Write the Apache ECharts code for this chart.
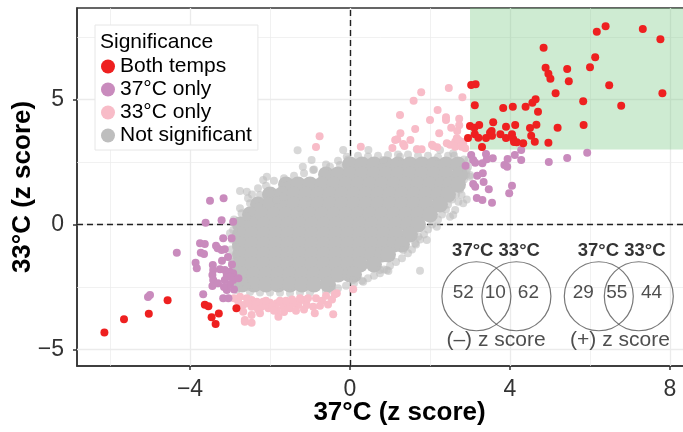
<!DOCTYPE html>
<html>
<head>
<meta charset="utf-8">
<script src="https://cdn.jsdelivr.net/npm/echarts@6/dist/echarts.min.js"></script>
<style>
  html, body { margin: 0; padding: 0; background: #fff; }
  #chart { width: 683px; height: 432px; }
</style>
</head>
<body>
<div id="chart"></div>
<script>
// points are [37°C z score, 33°C z score]
const bothTemps = [
  [3.03,5.58],[3.14,5.61],[3.12,4.77],[3.0,3.94],[3.11,3.87],[3.23,3.98],[3.58,4.09],[2.95,3.46],
  [3.12,3.61],[3.21,3.47],[3.4,3.46],[3.5,3.67],[3.54,3.74],[3.55,3.55],[3.76,3.61],[3.9,3.46],
  [3.9,3.91],[4.05,3.61],[4.08,3.42],[4.1,3.3],[4.17,3.29],[4.33,3.25],[4.13,3.98],[4.5,3.86],
  [4.53,3.55],[4.62,3.31],[4.66,3.99],[4.96,3.27],[5.19,3.87],[5.84,3.98],[3.3,3.1],[3.83,4.66],
  [4.07,4.71],[4.39,4.71],[4.7,4.51],[4.56,4.87],[4.64,5.01],[5.14,5.25],[5.83,4.93],[6.78,4.75],
  [7.81,5.25],[6.48,5.57],[5.47,5.73],[5.01,5.83],[4.96,6.03],[4.89,6.27],[5.43,6.22],[6.0,6.29],
  [6.13,6.69],[4.84,7.07],[6.17,7.71],[6.39,7.93],[7.32,7.82],[7.76,7.41],
  [-6.14,-4.32],[-5.65,-3.79],[-5.03,-3.57],[-4.56,-3.03],[-3.63,-3.21],[-3.54,-3.27],
  [-3.28,-3.56],[-3.46,-3.71],[-3.36,-3.98],[-2.84,-3.35]
];

const only37 = [
  [3.03,2.78],[3.08,2.58],[3.13,2.47],[2.89,2.35],[3.4,2.82],[3.42,2.61],[3.31,2.45],[3.57,2.65],
  [4.12,2.78],[4.28,2.58],[3.86,2.38],[3.93,2.31],[3.94,2.62],[4.97,2.5],[5.43,2.66],[5.93,2.87],
  [3.18,1.95],[3.32,2.05],[3.08,1.62],[3.13,1.51],[3.34,1.7],[3.47,1.41],[4.05,1.55],[3.98,1.25],
  [3.17,1.06],[3.31,0.98],[3.55,0.87],[4.28,2.98],
  [-3.5,0.95],[-3.16,1.05],[-3.61,0.07],[-3.21,0.17],[-2.92,0.11],[-4.33,-1.13],[-5.05,-2.9],
  [-5.0,-2.82],[-3.75,-0.75],[-3.63,-0.78],[-3.73,-1.13],[-3.65,-1.18],[-3.31,-0.95],[-3.21,-1.02],
  [-3.13,-0.99],[-3.17,-0.55],[-2.96,-0.55],[-3.86,-1.53],[-3.83,-1.75],[-3.43,-1.62],[-3.42,-1.82],
  [-3.44,-2.02],[-3.42,-2.22],[-3.44,-2.46],[-3.25,-1.79],[-3.13,-1.82],[-3.0,-1.89],[-3.08,-2.02],
  [-2.92,-1.95],[-3.0,-2.09],[-2.92,-2.22],[-3.13,-2.22],[-3.08,-2.62],[-3.17,-2.95],[-3.04,-2.95],
  [-3.67,-2.79],[-2.79,-2.15],[-3.35,-0.85],[-3.05,-1.3],[-3.2,-1.45],[-2.95,-1.6],[-3.3,-2.35],
  [-3.0,-2.4],[-3.15,-2.5],[-2.9,-2.6]
];

const only33 = [
  [2.47,5.46],[1.78,5.29],[2.81,5.09],[1.59,4.95],[2.19,4.58],[1.25,4.38],[2.0,4.18],[2.4,4.29],
  [2.4,4.18],[2.73,4.23],[2.53,3.87],[2.73,3.97],[1.63,3.82],[1.26,3.65],[1.18,3.41],[1.13,3.38],
  [2.23,3.65],[2.68,3.74],[1.51,3.38],[1.33,3.22],[1.36,3.14],[1.06,3.06],[0.27,3.11],[2.05,3.19],
  [2.18,3.09],[2.5,3.19],[2.63,3.31],[2.71,3.38],[2.79,3.31],[1.68,3.01],[1.79,3.01],[-0.76,3.53],
  [-0.85,3.1],[2.67,3.45],[2.83,3.25],[2.63,3.11],[2.42,3.25],[2.08,3.14],[2.79,3.11],[2.88,3.05],
  [-2.75,-2.89],[-2.58,-2.95],[-2.46,-3.02],[-2.33,-3.09],[-2.17,-3.09],[-2.0,-3.13],[-1.83,-3.15],
  [-1.67,-3.29],[-2.67,-3.22],[-2.46,-3.29],[-2.21,-3.29],[-2.04,-3.35],[-1.83,-3.42],[-2.67,-3.49],
  [-2.46,-3.62],[-2.63,-3.89],[-2.46,-3.93],[-2.25,-3.55],[-1.79,-3.69],[-1.38,-3.09],[-1.17,-3.02],
  [-1.08,-3.22],[-0.88,-3.55],[-0.42,-3.59],[-0.33,-2.75],[-1.58,-3.15],[-1.29,-3.22],[-0.92,-3.29],
  [-1.5,-3.35],[-1.42,-3.15],[-2.63,-3.82],[-0.38,-2.79],[0.08,-2.59],[-2.8,-3.05],[-2.55,-3.15],
  [-2.35,-3.2],[-2.1,-3.2],[-1.95,-3.25],[-1.75,-3.05],[-1.6,-3.05],[-1.45,-3.0],[-1.25,-2.95],
  [-1.05,-2.95],[-0.85,-2.95],[-0.7,-3.05],[-0.55,-3.2],[-0.75,-3.25],[-1.15,-3.4],[-1.35,-3.45],
  [-0.6,-2.85],[-2.3,-3.4],[-1.9,-3.45],[-2.75,-3.3],[-0.45,-3.0],[-1.65,-3.5],[-2.1,-3.05],[-2.9,-2.95]
];

// scattered grey points round the edge of the cloud
const notSigSparse = [
  [-1.31,2.97],[-0.96,2.58],[-1.18,2.31],[-0.92,2.18],[-0.5,2.31],[-0.25,2.38],[-2.17,1.78],[-2.08,1.91],
  [-1.67,1.67],[-2.75,1.34],[-2.58,1.31],[-2.25,1.18],[-2.0,1.25],[-1.83,0.98],[-1.67,1.11],[-2.5,0.85],
  [-2.29,0.71],[-2.71,0.45],[-2.58,0.31],[-2.92,-0.22],[-3.0,-0.35],[-2.96,-1.29],[-2.83,-2.62],[-2.58,-2.49],
  [-0.17,2.98],[-0.08,2.71],[0.46,2.98],[0.83,2.58],[1.25,2.71],[1.67,3.01],[2.25,2.98],[2.58,2.85],
  [2.96,2.58],[2.92,2.18],[3.0,1.98],[3.0,1.91],[2.92,1.0],[2.58,0.38],[2.79,1.18],[2.63,0.58],
  [2.71,0.91],[2.83,0.85],[2.5,0.31],[2.17,-0.09],[1.71,-0.49],[1.92,-0.62],[1.63,-0.75],[1.33,-1.02],
  [0.92,-1.82],[0.75,-1.82],[1.75,-1.85],[0.96,-1.86],[0.33,-2.29],[0.08,-2.22],
  [-0.3,2.55],[0.2,2.75],[0.7,2.75],[1.2,2.8],[1.7,2.75],[2.2,2.7],[2.6,2.75],[-0.9,2.2],[-1.4,1.95],
  [-1.9,1.75],[-2.3,1.45],[-2.55,1.05],[-2.75,0.65],[-2.9,0.2],[2.95,2.3],[2.85,1.8],[2.75,1.4],
  [2.55,1.0],[2.4,0.6],[2.2,0.2],[1.95,-0.2],[1.75,-0.6],[1.55,-1.0],[1.3,-1.35],[1.0,-1.65],
  [0.75,-1.95],[0.45,-2.15],[0.1,-2.35],[-0.3,-2.55],[-2.95,-0.6],[-2.97,-1.0],[-2.95,-1.5],
  [-2.95,-2.0],[-2.9,-2.4],[-2.5,-2.7],[-2.0,-2.72],[-1.5,-2.75],[-1.0,-2.72],[-0.6,-2.68],
  [-1.15,2.05],[-1.65,1.85],[-2.1,1.55],[-2.45,1.2],[-0.6,2.4],[-0.05,2.6],[0.45,2.72],[0.95,2.78],
  [1.45,2.8],[1.95,2.75],[2.45,2.75],[2.85,2.6],[2.9,2.0],[2.65,1.2],[2.45,0.8],[2.3,0.4],
  [2.05,0.0],[1.85,-0.4],[1.65,-0.8],[1.45,-1.15],[1.15,-1.5],[0.85,-1.8],[0.6,-2.05],[0.3,-2.25],
  [-0.1,-2.45],[-0.45,-2.62],[-2.85,-0.9],[-2.88,-1.8],[-2.8,-2.2],[-2.25,-2.72],[-1.75,-2.73],[-1.25,-2.72]
];

// dense core of the cloud, one row per 33°C value: [y, [x values]]
const notSigCoreRows = [
  [2.4, [0.0,0.3,0.6,0.9,1.2,1.5,1.8,2.1,2.4,2.7]],
  [2.0, [-0.6,-0.3,0.0,0.3,0.6,0.9,1.2,1.5,1.8,2.1,2.4,2.75]],
  [1.6, [-1.6,-1.3,-1.0,-0.7,-0.4,-0.1,0.2,0.5,0.8,1.1,1.4,1.7,2.0,2.3,2.5,2.7]],
  [1.2, [-2.0,-1.7,-1.4,-1.1,-0.8,-0.5,-0.2,0.1,0.4,0.7,1.0,1.3,1.6,1.9,2.2,2.45]],
  [0.8, [-2.3,-2.0,-1.7,-1.4,-1.1,-0.8,-0.5,-0.2,0.1,0.4,0.7,1.0,1.3,1.6,1.9,2.25]],
  [0.4, [-2.5,-2.2,-1.9,-1.6,-1.3,-1.0,-0.7,-0.4,-0.1,0.2,0.5,0.8,1.1,1.4,1.7,2.0]],
  [0.0, [-2.75,-2.45,-2.15,-1.85,-1.55,-1.25,-0.95,-0.65,-0.35,-0.05,0.25,0.55,0.85,1.15,1.45,1.7]],
  [-0.4, [-2.75,-2.45,-2.15,-1.85,-1.55,-1.25,-0.95,-0.65,-0.35,-0.05,0.25,0.55,0.85,1.15,1.5]],
  [-0.8, [-2.75,-2.45,-2.15,-1.85,-1.55,-1.25,-0.95,-0.65,-0.35,-0.05,0.25,0.55,0.85,1.1,1.3]],
  [-1.2, [-2.75,-2.45,-2.15,-1.85,-1.55,-1.25,-0.95,-0.65,-0.35,-0.05,0.25,0.55,0.8,0.95]],
  [-1.6, [-2.75,-2.45,-2.15,-1.85,-1.55,-1.25,-0.95,-0.65,-0.35,-0.05,0.25,0.6]],
  [-2.0, [-2.7,-2.4,-2.1,-1.8,-1.5,-1.2,-0.9,-0.6,-0.3,0.0,0.1]],
  [-2.4, [-2.7,-2.4,-2.1,-1.8,-1.5,-1.2,-0.9,-0.55]]
];

const xTicks = [-4, 0, 4, 8];
const yTicks = [-5, 0, 5];
const xMinorGrid = [-6, -2, 2, 6];
const yMinorGrid = [-2.5, 2.5, 7.5];
const sigThreshold = 3;

const vennCircles = [[3.16,-2.87],[4.16,-2.87],[6.22,-2.87],[7.22,-2.87]];
const vennCounts = [['52',2.83,-2.73],['10',3.63,-2.73],['62',4.46,-2.73],['29',5.83,-2.73],['55',6.67,-2.73],['44',7.54,-2.73]];
const vennHeads = [['37°C 33°C',3.65,-1.05],['37°C 33°C',6.79,-1.05]];
const vennCaptions = [['(–) z score',3.65,-4.62],['(+) z score',6.75,-4.62]];

const xMin = -6.825, xMax = 8.425, yMin = -5.66, yMax = 8.66;
const font = '"Liberation Sans", Arial, Helvetica, sans-serif';

let corePoints = [];
notSigCoreRows.forEach(function (row) {
  row[1].forEach(function (x) { corePoints.push([x, row[0]]); });
});

function minusLabel(v) {
  return v < 0 ? '\u2212' + (-v) : String(v);
}

function gridLine(axis, v, w) {
  let d = { lineStyle: { color: '#ebebeb', width: w, type: 'solid' } };
  d[axis] = v;
  return d;
}

function textSeries(items, size, weight, color) {
  return {
    type: 'scatter', silent: true, z: 7,
    symbolSize: 1, itemStyle: { color: 'rgba(0,0,0,0)' },
    label: { show: true, position: 'inside', formatter: '{b}', fontSize: size,
      fontWeight: weight, color: color, fontFamily: font },
    data: items.map(function (t) { return { name: t[0], value: [t[1], t[2]] }; })
  };
}

const myChart = echarts.init(document.getElementById('chart'));
myChart.setOption({
  animation: false,
  backgroundColor: '#fff',
  textStyle: { fontFamily: font },
  title: {
    text: 'Significance', left: 100, top: 32, padding: 0,
    textStyle: { fontSize: 21, fontWeight: 'normal', color: '#000', fontFamily: font }
  },
  legend: {
    orient: 'vertical', left: 95, top: 25,
    data: ['Both temps', '37°C only', '33°C only', 'Not significant'].map(function (n) {
      return { name: n, icon: 'circle' };
    }),
    itemWidth: 14, itemHeight: 14, itemGap: 2,
    padding: [31, 6, 4, 6],
    backgroundColor: '#fff', borderColor: '#e6e6e6', borderWidth: 1,
    textStyle: { fontSize: 21, color: '#000', fontFamily: font },
    itemStyle: { opacity: 1 },
    selectedMode: false
  },
  grid: {
    left: 77, right: -4, top: 8, bottom: 66,
    outerBoundsMode: 'none', containLabel: false,
    show: true, borderColor: '#333', borderWidth: 1.5
  },
  xAxis: {
    type: 'value', min: xMin, max: xMax,
    axisLine: { show: true, onZero: false, lineStyle: { color: '#333', width: 1.5 } },
    axisTick: { show: true, length: 4, customValues: xTicks, lineStyle: { color: '#333', width: 1.5 } },
    axisLabel: { customValues: xTicks, formatter: minusLabel, fontSize: 23, color: '#333', margin: 12 },
    splitLine: { show: false },
    name: '37°C (z score)', nameLocation: 'middle', nameGap: 34, nameMoveOverlap: false,
    nameTextStyle: { fontSize: 26, fontWeight: 'bold', color: '#000', padding: [0, 0, 0, 35] }
  },
  yAxis: {
    type: 'value', min: yMin, max: yMax,
    axisLine: { show: true, onZero: false, lineStyle: { color: '#333', width: 1.5 } },
    axisTick: { show: true, length: 4, customValues: yTicks, lineStyle: { color: '#333', width: 1.5 } },
    axisLabel: { customValues: yTicks, formatter: minusLabel, fontSize: 23, color: '#333', margin: 13 },
    splitLine: { show: false },
    name: '33°C (z score)', nameLocation: 'middle', nameGap: 41, nameMoveOverlap: false,
    nameTextStyle: { fontSize: 26, fontWeight: 'bold', color: '#000' }
  },
  series: [
    {
      name: 'Not significant', type: 'scatter', silent: true, z: 3,
      symbolSize: 16, itemStyle: { color: '#bebebe', opacity: 1 },
      data: corePoints,
      markLine: {
        silent: true, z: 1, symbol: ['none', 'none'], label: { show: false },
        lineStyle: { type: 'solid' },
        data: [].concat(
          xTicks.map(function (v) { return gridLine('xAxis', v, 1.3); }),
          xMinorGrid.map(function (v) { return gridLine('xAxis', v, 0.7); }),
          yTicks.map(function (v) { return gridLine('yAxis', v, 1.3); }),
          yMinorGrid.map(function (v) { return gridLine('yAxis', v, 0.7); })
        )
      },
      markArea: {
        silent: true, z: 1.5,
        itemStyle: { color: 'rgba(120,200,130,0.36)' },
        data: [[{ xAxis: sigThreshold, yAxis: sigThreshold }, { xAxis: xMax, yAxis: yMax }]]
      }
    },
    {
      name: 'Not significant', type: 'scatter', silent: true, z: 3,
      symbolSize: 8, itemStyle: { color: '#bebebe', opacity: 0.6 },
      data: notSigSparse,
      markLine: {
        silent: true, z: 2, symbol: ['none', 'none'], label: { show: false },
        lineStyle: { color: '#222', width: 1.4, type: [6, 4] },
        data: [{ xAxis: 0 }, { yAxis: 0 }]
      }
    },
    {
      name: '33°C only', type: 'scatter', silent: true, z: 4,
      symbolSize: 8, itemStyle: { color: '#f8bcc8', opacity: 1 },
      data: only33
    },
    {
      name: '37°C only', type: 'scatter', silent: true, z: 4,
      symbolSize: 8, itemStyle: { color: '#c98bbd', opacity: 1 },
      data: only37
    },
    {
      name: 'Both temps', type: 'scatter', silent: true, z: 4,
      symbolSize: 8, itemStyle: { color: '#ee2020', opacity: 1 },
      data: bothTemps
    },
    {
      type: 'scatter', silent: true, z: 6,
      symbolSize: 69,
      itemStyle: { color: 'rgba(0,0,0,0)', borderColor: '#555', borderWidth: 1.2 },
      data: vennCircles
    },
    textSeries(vennHeads, 18.5, 'bold', '#000'),
    textSeries(vennCounts, 19, 'normal', '#222'),
    textSeries(vennCaptions, 21, 'normal', '#222')
  ]
});
</script>
</body>
</html>
